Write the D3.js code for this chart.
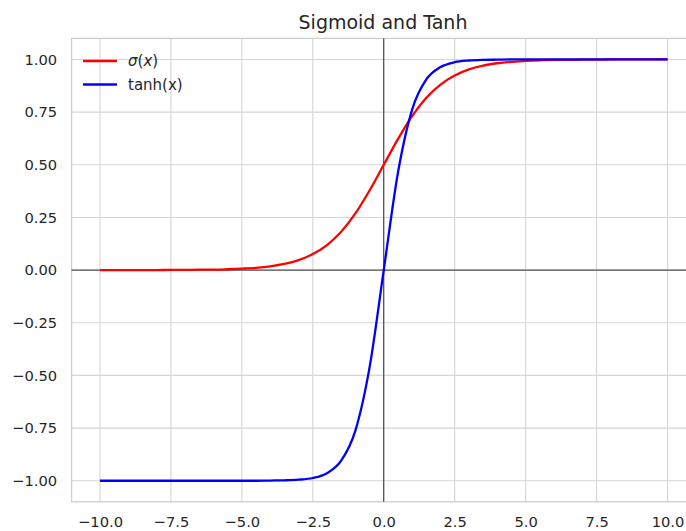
<!DOCTYPE html>
<html>
<head>
<meta charset="utf-8">
<script src="https://cdn.jsdelivr.net/npm/d3@7"></script>
<style>
  body { margin: 0; background: #fff; overflow: hidden; }
  text { font-family: "DejaVu Sans", sans-serif; fill: #262626; }
</style>
</head>
<body>
<script>
// values, x step 0.5
const xs = [-10, -9.5, -9, -8.5, -8, -7.5, -7, -6.5, -6, -5.5, -5, -4.5, -4, -3.5, -3, -2.5, -2, -1.5, -1, -0.5,
            0, 0.5, 1, 1.5, 2, 2.5, 3, 3.5, 4, 4.5, 5, 5.5, 6, 6.5, 7, 7.5, 8, 8.5, 9, 9.5, 10];
const sigmoidVals = [0.000, 0.000, 0.000, 0.000, 0.000, 0.001, 0.001, 0.002, 0.002, 0.004, 0.007, 0.011, 0.018, 0.029, 0.047, 0.076, 0.119, 0.182, 0.269, 0.378,
                     0.500, 0.622, 0.731, 0.818, 0.881, 0.924, 0.953, 0.971, 0.982, 0.989, 0.993, 0.996, 0.998, 0.998, 0.999, 0.999, 1.000, 1.000, 1.000, 1.000, 1.000];
const tanhVals = [-1.000, -1.000, -1.000, -1.000, -1.000, -1.000, -1.000, -1.000, -1.000, -1.000, -1.000, -1.000, -0.999, -0.998, -0.995, -0.987, -0.964, -0.905, -0.762, -0.462,
                  0.000, 0.462, 0.762, 0.905, 0.964, 0.987, 0.995, 0.998, 0.999, 1.000, 1.000, 1.000, 1.000, 1.000, 1.000, 1.000, 1.000, 1.000, 1.000, 1.000, 1.000];
const xTicks = [-10, -7.5, -5, -2.5, 0, 2.5, 5, 7.5, 10];
const yTicks = [-1, -0.75, -0.5, -0.25, 0, 0.25, 0.5, 0.75, 1];
const seriesNames = ["σ(x)", "tanh(x)"];
const seriesColors = ["#ff0000", "#0000ff"];

const W = 686, H = 531;
const svg = d3.select("body").append("svg").attr("width", W).attr("height", H);

const x = d3.scaleLinear().domain([-11, 11]).range([71.6, 695.9]);
const y = d3.scaleLinear().domain([-1.1, 1.1]).range([501.8, 38.4]);

const fmtX = d => d3.format(".1f")(d).replace("-", "\u2212");
const fmtY = d => d3.format(".2f")(d).replace("-", "\u2212");

// grid
svg.append("g").selectAll("line").data(xTicks).join("line")
    .attr("x1", d => x(d)).attr("x2", d => x(d))
    .attr("y1", y.range()[0]).attr("y2", y.range()[1])
    .attr("stroke", "#d5d5d5").attr("stroke-width", 1.1);
svg.append("g").selectAll("line").data(yTicks).join("line")
    .attr("y1", d => y(d)).attr("y2", d => y(d))
    .attr("x1", x.range()[0]).attr("x2", x.range()[1])
    .attr("stroke", "#d5d5d5").attr("stroke-width", 1.1);

// spines
svg.append("rect")
    .attr("x", x.range()[0]).attr("y", y.range()[1])
    .attr("width", x.range()[1] - x.range()[0]).attr("height", y.range()[0] - y.range()[1])
    .attr("fill", "none").attr("stroke", "#cccccc").attr("stroke-width", 1.25);

// tick labels
const xAxis = svg.append("g").attr("transform", `translate(0,${y.range()[0]})`)
    .call(d3.axisBottom(x).tickValues(xTicks).tickFormat(fmtX).tickSize(0).tickPadding(15));
xAxis.select(".domain").remove();
xAxis.selectAll("text").attr("font-size", 14.7).attr("font-family", "DejaVu Sans").attr("fill", "#262626");

const yAxis = svg.append("g").attr("transform", `translate(${x.range()[0]},0)`)
    .call(d3.axisLeft(y).tickValues(yTicks).tickFormat(fmtY).tickSize(0).tickPadding(14.5));
yAxis.select(".domain").remove();
yAxis.selectAll("text").attr("font-size", 14.7).attr("font-family", "DejaVu Sans").attr("fill", "#262626");

// zero lines
svg.append("line").attr("x1", x.range()[0]).attr("x2", x.range()[1])
    .attr("y1", y(0)).attr("y2", y(0)).attr("stroke", "#000").attr("stroke-width", 0.8);
svg.append("line").attr("y1", y.range()[0]).attr("y2", y.range()[1])
    .attr("x1", x(0)).attr("x2", x(0)).attr("stroke", "#000").attr("stroke-width", 0.8);

// curves
const line = d3.line().x(d => x(d[0])).y(d => y(d[1])).curve(d3.curveMonotoneX);
[sigmoidVals, tanhVals].forEach((vals, i) => {
    svg.append("path")
        .datum(xs.map((v, j) => [v, vals[j]]))
        .attr("d", line)
        .attr("fill", "none")
        .attr("stroke", seriesColors[i])
        .attr("stroke-width", 2.3);
});

// legend
const legend = svg.append("g");
seriesNames.forEach((name, i) => {
    const ly = 61 + i * 23.5;
    legend.append("line").attr("x1", 83).attr("x2", 117).attr("y1", ly).attr("y2", ly)
        .attr("stroke", seriesColors[i]).attr("stroke-width", 2.3);
    const t = legend.append("text").attr("x", 128).attr("y", ly).attr("dy", "0.35em")
        .attr("font-size", 15);
    if (i === 0) {
        t.append("tspan").attr("font-style", "italic").text("σ");
        t.append("tspan").text("(");
        t.append("tspan").attr("font-style", "italic").text("x");
        t.append("tspan").text(")");
    } else {
        t.text(name);
    }
});

// title
svg.append("text").attr("x", 383).attr("y", 29)
    .attr("text-anchor", "middle").attr("font-size", 19)
    .text("Sigmoid and Tanh");
</script>
</body>
</html>
